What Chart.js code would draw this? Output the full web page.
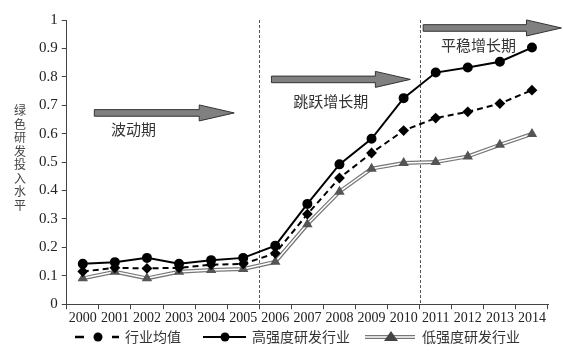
<!DOCTYPE html>
<html>
<head>
<meta charset="utf-8">
<script src="https://cdn.jsdelivr.net/npm/chart.js@4"></script>
<style>
  html, body { margin: 0; padding: 0; background: #fff; }
</style>
</head>
<body>
<canvas id="chart" width="563" height="352"></canvas>
<script>
const years = ['2000', '2001', '2002', '2003', '2004', '2005', '2006', '2007',
  '2008', '2009', '2010', '2011', '2012', '2013', '2014'];

const industryMean  = [0.115, 0.128, 0.126, 0.128, 0.139, 0.142, 0.179, 0.317,
  0.444, 0.532, 0.611, 0.655, 0.677, 0.706, 0.753];
const highIntensity = [0.142, 0.148, 0.163, 0.142, 0.155, 0.163, 0.206, 0.353,
  0.492, 0.582, 0.725, 0.815, 0.833, 0.853, 0.903];
const lowIntensity  = [0.091, 0.114, 0.091, 0.114, 0.120, 0.124, 0.149, 0.281,
  0.396, 0.477, 0.497, 0.500, 0.520, 0.561, 0.599];

const seriesNames = ['行业均值', '高强度研发行业', '低强度研发行业'];
const yTitle = '绿色研发投入水平';

// phase separators (between category indexes)
const phaseBreaks = [5.5, 10.5];
// phase arrows: start / tip in category index units, y in data units
const phaseArrows = [
  { from: 0.36,  to: 4.72,  y: 0.673, text: '波动期',     tx: 1.58,  ty: 0.614 },
  { from: 5.88,  to: 10.21, y: 0.791, text: '跳跃增长期', tx: 7.73,  ty: 0.714 },
  { from: 10.61, to: 14.92, y: 0.972, text: '平稳增长期', tx: 12.33, ty: 0.911 }
];

const cjkFont = '"Noto Sans CJK SC", "Noto Sans", sans-serif';
const numFont = '"Liberation Serif", "DejaVu Serif", serif';

const phasePlugin = {
  id: 'phases',
  beforeDatasetsDraw(chart) {
    const {ctx, scales: {x, y}} = chart;
    ctx.save();
    ctx.strokeStyle = '#555';
    ctx.lineWidth = 1;
    ctx.setLineDash([3, 2]);
    phaseBreaks.forEach((b) => {
      const px = Math.round(x.getPixelForValue(b)) + 0.5;
      ctx.beginPath();
      ctx.moveTo(px, y.getPixelForValue(1));
      ctx.lineTo(px, y.getPixelForValue(0));
      ctx.stroke();
    });
    ctx.restore();
  },
  afterDraw(chart) {
    const {ctx, scales: {x, y}} = chart;
    ctx.save();
    // arrows
    phaseArrows.forEach((a) => {
      const x0 = x.getPixelForValue(a.from);
      const x1 = x.getPixelForValue(a.to);
      const cy = y.getPixelForValue(a.y);
      const head = 35, hh = 8, sh = 3.3;
      ctx.beginPath();
      ctx.moveTo(x0, cy - sh);
      ctx.lineTo(x1 - head, cy - sh);
      ctx.lineTo(x1 - head, cy - hh);
      ctx.lineTo(x1, cy);
      ctx.lineTo(x1 - head, cy + hh);
      ctx.lineTo(x1 - head, cy + sh);
      ctx.lineTo(x0, cy + sh);
      ctx.closePath();
      ctx.fillStyle = '#808080';
      ctx.fill();
      ctx.strokeStyle = '#333';
      ctx.lineWidth = 1;
      ctx.stroke();

      ctx.fillStyle = '#333';
      ctx.font = '15px ' + cjkFont;
      ctx.textAlign = 'center';
      ctx.textBaseline = 'middle';
      ctx.fillText(a.text, x.getPixelForValue(a.tx), y.getPixelForValue(a.ty));
    });

    // vertical y-axis title
    ctx.fillStyle = '#444';
    ctx.font = '12px ' + cjkFont;
    ctx.textAlign = 'center';
    ctx.textBaseline = 'middle';
    const chars = [...yTitle];
    const step = 13.5;
    const midY = (chart.chartArea.top + chart.chartArea.bottom) / 2 - 4;
    chars.forEach((c, i) => {
      ctx.fillText(c, 20, midY + (i - (chars.length - 1) / 2) * step);
    });

    // legend
    const ly = 337;
    ctx.lineWidth = 2;
    ctx.strokeStyle = '#000';
    ctx.fillStyle = '#000';
    // mean: - o -
    ctx.lineWidth = 2.5;
    ctx.beginPath();
    ctx.moveTo(75, ly); ctx.lineTo(84, ly);
    ctx.moveTo(112, ly); ctx.lineTo(119, ly);
    ctx.stroke();
    ctx.beginPath(); ctx.arc(98, ly, 4.5, 0, Math.PI * 2); ctx.fill();
    // high: --o--
    ctx.lineWidth = 2;
    ctx.beginPath(); ctx.moveTo(203, ly); ctx.lineTo(246, ly); ctx.stroke();
    ctx.beginPath(); ctx.arc(225, ly, 4.5, 0, Math.PI * 2); ctx.fill();
    // low: double line + triangle
    ctx.strokeStyle = '#777'; ctx.lineWidth = 4;
    ctx.beginPath(); ctx.moveTo(365, ly); ctx.lineTo(415, ly); ctx.stroke();
    ctx.strokeStyle = '#fff'; ctx.lineWidth = 1.5;
    ctx.beginPath(); ctx.moveTo(365, ly); ctx.lineTo(415, ly); ctx.stroke();
    ctx.fillStyle = '#444';
    ctx.beginPath();
    ctx.moveTo(391, ly - 6); ctx.lineTo(398, ly + 4); ctx.lineTo(384, ly + 4);
    ctx.closePath(); ctx.fill();

    ctx.fillStyle = '#333';
    ctx.font = '14px ' + cjkFont;
    ctx.textAlign = 'left';
    ctx.textBaseline = 'middle';
    ctx.fillText(seriesNames[0], 125, ly);
    ctx.fillText(seriesNames[1], 252, ly);
    ctx.fillText(seriesNames[2], 422, ly);
    ctx.restore();
  }
};

new Chart(document.getElementById('chart'), {
  type: 'line',
  data: {
    labels: years,
    datasets: [
      {
        label: seriesNames[0],
        data: industryMean,
        borderColor: '#000',
        borderWidth: 2,
        borderDash: [6, 4],
        pointStyle: 'rectRot',
        pointRadius: 4,
        pointBackgroundColor: '#000',
        pointBorderColor: '#000',
        tension: 0
      },
      {
        label: seriesNames[1],
        data: highIntensity,
        borderColor: '#000',
        borderWidth: 2,
        pointStyle: 'circle',
        pointRadius: 4,
        pointBackgroundColor: '#000',
        pointBorderColor: '#000',
        tension: 0
      },
      {
        label: seriesNames[2],
        data: lowIntensity,
        borderColor: '#fff',
        borderWidth: 1.5,
        pointStyle: 'triangle',
        pointRadius: 4.5,
        pointBackgroundColor: '#555',
        pointBorderColor: '#555',
        tension: 0
      },
      {
        label: seriesNames[2] + ' outline',
        data: lowIntensity,
        borderColor: '#777',
        borderWidth: 4,
        pointRadius: 0,
        tension: 0
      }
    ]
  },
  options: {
    responsive: false,
    animation: false,
    layout: { padding: { left: 35, right: 15, top: 20, bottom: 24 } },
    plugins: {
      legend: { display: false },
      tooltip: { enabled: false }
    },
    scales: {
      x: {
        offset: true,
        grid: {
          offset: true,
          drawOnChartArea: false,
          tickLength: 5,
          color: '#444'
        },
        border: { color: '#444', width: 1 },
        ticks: {
          color: '#222',
          font: { family: numFont, size: 14 },
          padding: 1,
          maxRotation: 0,
          autoSkip: false
        }
      },
      y: {
        min: 0,
        max: 1,
        grid: {
          drawOnChartArea: false,
          tickLength: 5,
          color: '#444'
        },
        border: { color: '#444', width: 1 },
        ticks: {
          stepSize: 0.1,
          color: '#222',
          font: { family: numFont, size: 15 },
          padding: 4,
          callback: (v) => String(+v.toFixed(1))
        }
      }
    }
  },
  plugins: [phasePlugin]
});
</script>
</body>
</html>
